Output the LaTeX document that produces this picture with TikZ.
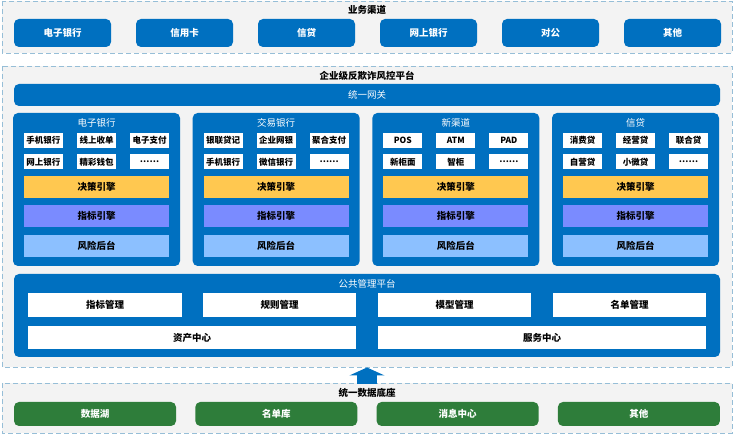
\documentclass[tikz,border=0pt]{standalone}
\usepackage{fontspec}
\setmainfont{Noto Sans CJK SC}
\usepackage{xcolor}
\usetikzlibrary{arrows.meta}
\definecolor{chanblue}{RGB}{0,112,192}
\definecolor{zonefill}{RGB}{243,243,243}
\definecolor{zoneline}{RGB}{150,190,215}
\definecolor{decidecol}{RGB}{255,200,80}
\definecolor{metriccol}{RGB}{122,139,255}
\definecolor{riskcol}{RGB}{140,192,255}
\definecolor{basegreen}{RGB}{46,125,58}

\begin{document}
\begin{tikzpicture}[x=1pt, y=-1pt,
    zonebox/.style={draw=zoneline, fill=zonefill, line width=0.9pt, dash pattern=on 5pt off 3pt},
    zonetitle/.style={font=\bfseries\fontsize{9.5}{11}\selectfont, text=black},
    chan/.style={fill=chanblue, rounded corners=5pt, minimum width=97pt, minimum height=28pt, text=white, font=\bfseries\fontsize{9.5}{11}\selectfont},
    panel/.style={fill=chanblue, rounded corners=5pt, minimum width=167pt, minimum height=153pt},
    ptitle/.style={text=white, font=\fontsize{9.5}{11}\selectfont},
    item/.style={fill=white, minimum width=39pt, minimum height=15pt, inner sep=0pt, font=\bfseries\fontsize{8.5}{10}\selectfont},
    bar/.style={minimum width=145pt, minimum height=22pt, inner sep=0pt, font=\bfseries\fontsize{9.5}{11}\selectfont},
    pubbox/.style={fill=white, minimum height=24pt, inner sep=0pt, font=\bfseries\fontsize{9.5}{11}\selectfont},
    basebox/.style={fill=basegreen, rounded corners=5pt, minimum width=162pt, minimum height=24pt, text=white, font=\bfseries\fontsize{9.5}{11}\selectfont}]
    \useasboundingbox (0,0) rectangle (737,435);
    % Dashed zones
    \draw[zonebox] (2,1) rectangle (732,53);
    \draw[zonebox] (2,66) rectangle (732,367);
    \draw[zonebox] (2,383) rectangle (732,433);
    % Business channels
    \node[zonetitle] (chtitle) at (367,10) {业务渠道};
    \foreach \cname [count=\i] in {电子银行,信用卡,信贷,网上银行,对公,其他} {
        \node[chan] (ch\i) at (62.5+122*\i-122,33) {\cname};
    }
    % Platform
    \node[zonetitle] (plattitle) at (367,76) {企业级反欺诈风控平台};
    \node[chan, minimum width=706pt, minimum height=22pt, font=\fontsize{9.5}{11}\selectfont] (gate) at (367,95) {统一网关};
    % Channel panels
    \foreach \pname/\a/\b/\c/\d/\e [count=\i] in {电子银行/手机银行/线上收单/电子支付/网上银行/精彩钱包,
        交易银行/银联贷记/企业网银/聚合支付/手机银行/微信银行,
        新渠道/POS/ATM/PAD/新柜面/智柜,
        信贷/消费贷/经营贷/联合贷/自营贷/小微贷} {
        \pgfmathsetmacro{\px}{96.5+(\i-1)*179.67}
        \node[panel] (p\i) at (\px,189.5) {};
        \node[ptitle] (p\i-t) at (\px,123) {\pname};
        \node[item] (p\i-a) at (\px-53,140.5) {\a};
        \node[item] (p\i-b) at (\px,140.5) {\b};
        \node[item] (p\i-c) at (\px+53,140.5) {\c};
        \node[item] (p\i-d) at (\px-53,162) {\d};
        \node[item] (p\i-e) at (\px,162) {\e};
        \node[item] (p\i-f) at (\px+53,162) {……};
        \node[bar, fill=decidecol] (p\i-dec) at (\px,187) {决策引擎};
        \node[bar, fill=metriccol] (p\i-met) at (\px,216) {指标引擎};
        \node[bar, fill=riskcol] (p\i-risk) at (\px,246) {风险后台};
    }
    % Public management platform
    \node[fill=chanblue, rounded corners=5pt, minimum width=706pt, minimum height=83pt] (pub) at (367,315.5) {};
    \node[ptitle] (pubtitle) at (367,284) {公共管理平台};
    \node[pubbox, minimum width=154pt] (pub1) at (105,305) {指标管理};
    \node[pubbox, minimum width=153pt] (pub2) at (279.5,305) {规则管理};
    \node[pubbox, minimum width=153pt] (pub3) at (454.5,305) {模型管理};
    \node[pubbox, minimum width=153pt] (pub4) at (629.5,305) {名单管理};
    \node[pubbox, minimum width=328pt, minimum height=23pt] (asset) at (192,337.5) {资产中心};
    \node[pubbox, minimum width=328pt, minimum height=23pt] (service) at (542,337.5) {服务中心};
    % Data base
    \coordinate (arrS) at (367,384);
    \coordinate (arrE) at (367,367.5);
    \draw[-{Triangle[width=35pt,length=8pt]}, line width=20pt, chanblue] (arrS) -- (arrE);
    \node[zonetitle] (basetitle) at (367,393) {统一数据底座};
    \foreach \bname [count=\i] in {数据湖,名单库,消息中心,其他} {
        \node[basebox] (b\i) at (95+181.3*\i-181.3,414) {\bname};
    }
\end{tikzpicture}
\end{document}
